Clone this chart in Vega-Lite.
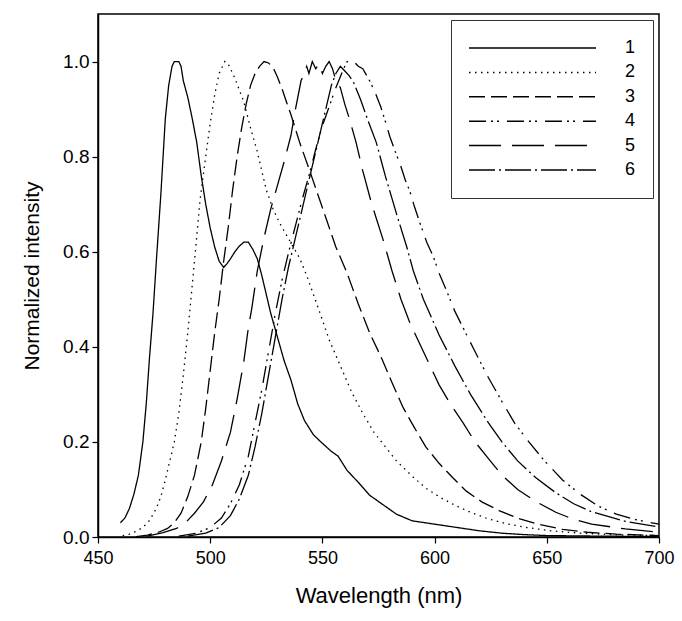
{
  "$schema": "https://vega.github.io/schema/vega-lite/v6.json",
  "width": 561,
  "height": 523,
  "autosize": "none",
  "padding": {"left": 98, "top": 14, "right": 23, "bottom": 84},
  "config": {
    "font": "Liberation Sans",
    "view": {"stroke": "black", "strokeWidth": 1.5},
    "axis": {"domainColor": "black", "domainWidth": 1.5, "tickColor": "black", "tickWidth": 1.2, "tickSize": 6, "labelColor": "black", "labelFont": "Liberation Sans", "titleFont": "Liberation Sans", "titleFontWeight": "normal", "titleColor": "black", "grid": false}
  },
  "datasets": {
    "curves": [
      {"s":"1","w":460,"v":0.03},{"s":"1","w":462,"v":0.04},{"s":"1","w":464,"v":0.06},{"s":"1","w":466,"v":0.09},{"s":"1","w":468,"v":0.13},{"s":"1","w":470,"v":0.2},{"s":"1","w":471.5,"v":0.28},{"s":"1","w":473,"v":0.38},{"s":"1","w":474.5,"v":0.47},{"s":"1","w":476,"v":0.58},{"s":"1","w":478,"v":0.72},{"s":"1","w":480,"v":0.88},{"s":"1","w":481.5,"v":0.95},{"s":"1","w":483,"v":0.99},{"s":"1","w":484,"v":1.0},{"s":"1","w":486,"v":1.0},{"s":"1","w":487,"v":0.99},{"s":"1","w":488,"v":0.96},{"s":"1","w":490,"v":0.925},{"s":"1","w":492,"v":0.88},{"s":"1","w":494,"v":0.83},{"s":"1","w":496,"v":0.76},{"s":"1","w":498,"v":0.7},{"s":"1","w":500,"v":0.65},{"s":"1","w":502,"v":0.61},{"s":"1","w":504,"v":0.58},{"s":"1","w":506,"v":0.567},{"s":"1","w":507.5,"v":0.575},{"s":"1","w":509,"v":0.585},{"s":"1","w":511,"v":0.6},{"s":"1","w":513,"v":0.612},{"s":"1","w":515,"v":0.62},{"s":"1","w":517,"v":0.62},{"s":"1","w":519,"v":0.605},{"s":"1","w":521,"v":0.585},{"s":"1","w":523,"v":0.55},{"s":"1","w":525,"v":0.51},{"s":"1","w":527,"v":0.47},{"s":"1","w":530,"v":0.42},{"s":"1","w":533,"v":0.37},{"s":"1","w":536,"v":0.33},{"s":"1","w":539,"v":0.28},{"s":"1","w":542,"v":0.245},{"s":"1","w":546,"v":0.215},{"s":"1","w":550,"v":0.197},{"s":"1","w":554,"v":0.18},{"s":"1","w":557,"v":0.17},{"s":"1","w":561,"v":0.14},{"s":"1","w":566,"v":0.115},{"s":"1","w":571,"v":0.088},{"s":"1","w":577,"v":0.068},{"s":"1","w":583,"v":0.048},{"s":"1","w":590,"v":0.034},{"s":"1","w":600,"v":0.027},{"s":"1","w":610,"v":0.02},{"s":"1","w":620,"v":0.013},{"s":"1","w":630,"v":0.008},{"s":"1","w":640,"v":0.005},{"s":"1","w":650,"v":0.003},{"s":"1","w":670,"v":0.002},{"s":"1","w":700,"v":0.001},
      {"s":"2","w":461,"v":0.003},{"s":"2","w":464,"v":0.006},{"s":"2","w":467,"v":0.012},{"s":"2","w":470,"v":0.02},{"s":"2","w":473,"v":0.035},{"s":"2","w":476,"v":0.06},{"s":"2","w":478,"v":0.085},{"s":"2","w":480,"v":0.12},{"s":"2","w":482,"v":0.16},{"s":"2","w":484,"v":0.2},{"s":"2","w":486,"v":0.26},{"s":"2","w":488,"v":0.34},{"s":"2","w":490,"v":0.43},{"s":"2","w":491,"v":0.48},{"s":"2","w":493,"v":0.58},{"s":"2","w":495.5,"v":0.71},{"s":"2","w":498,"v":0.8},{"s":"2","w":500,"v":0.87},{"s":"2","w":502,"v":0.93},{"s":"2","w":504,"v":0.975},{"s":"2","w":506.5,"v":1.0},{"s":"2","w":508,"v":0.995},{"s":"2","w":511,"v":0.965},{"s":"2","w":515,"v":0.915},{"s":"2","w":518,"v":0.86},{"s":"2","w":521,"v":0.81},{"s":"2","w":525,"v":0.73},{"s":"2","w":528,"v":0.69},{"s":"2","w":531,"v":0.66},{"s":"2","w":534,"v":0.635},{"s":"2","w":537,"v":0.61},{"s":"2","w":540,"v":0.585},{"s":"2","w":543,"v":0.55},{"s":"2","w":546,"v":0.51},{"s":"2","w":549,"v":0.47},{"s":"2","w":553,"v":0.415},{"s":"2","w":558,"v":0.36},{"s":"2","w":563,"v":0.305},{"s":"2","w":568,"v":0.26},{"s":"2","w":573,"v":0.22},{"s":"2","w":578,"v":0.19},{"s":"2","w":583,"v":0.16},{"s":"2","w":590,"v":0.128},{"s":"2","w":596,"v":0.103},{"s":"2","w":603,"v":0.082},{"s":"2","w":609,"v":0.067},{"s":"2","w":616,"v":0.052},{"s":"2","w":624,"v":0.038},{"s":"2","w":632,"v":0.028},{"s":"2","w":641,"v":0.02},{"s":"2","w":652,"v":0.013},{"s":"2","w":665,"v":0.008},{"s":"2","w":680,"v":0.005},{"s":"2","w":700,"v":0.003},
      {"s":"3","w":467,"v":0.001},{"s":"3","w":472,"v":0.004},{"s":"3","w":477,"v":0.01},{"s":"3","w":481,"v":0.018},{"s":"3","w":484,"v":0.03},{"s":"3","w":487,"v":0.05},{"s":"3","w":490,"v":0.085},{"s":"3","w":493,"v":0.13},{"s":"3","w":496,"v":0.2},{"s":"3","w":498,"v":0.27},{"s":"3","w":500,"v":0.35},{"s":"3","w":502,"v":0.43},{"s":"3","w":504,"v":0.5},{"s":"3","w":506,"v":0.58},{"s":"3","w":508,"v":0.65},{"s":"3","w":510,"v":0.73},{"s":"3","w":512,"v":0.8},{"s":"3","w":514,"v":0.86},{"s":"3","w":516,"v":0.91},{"s":"3","w":518,"v":0.95},{"s":"3","w":520,"v":0.975},{"s":"3","w":522,"v":0.99},{"s":"3","w":524,"v":1.0},{"s":"3","w":526,"v":0.997},{"s":"3","w":528,"v":0.988},{"s":"3","w":530,"v":0.967},{"s":"3","w":532,"v":0.943},{"s":"3","w":534,"v":0.915},{"s":"3","w":536,"v":0.888},{"s":"3","w":538,"v":0.858},{"s":"3","w":540,"v":0.828},{"s":"3","w":544,"v":0.775},{"s":"3","w":548,"v":0.72},{"s":"3","w":552,"v":0.665},{"s":"3","w":556,"v":0.61},{"s":"3","w":561,"v":0.555},{"s":"3","w":566,"v":0.49},{"s":"3","w":571,"v":0.43},{"s":"3","w":576,"v":0.38},{"s":"3","w":581,"v":0.325},{"s":"3","w":586,"v":0.272},{"s":"3","w":591,"v":0.23},{"s":"3","w":596,"v":0.19},{"s":"3","w":602,"v":0.155},{"s":"3","w":608,"v":0.125},{"s":"3","w":614,"v":0.097},{"s":"3","w":621,"v":0.074},{"s":"3","w":629,"v":0.055},{"s":"3","w":638,"v":0.038},{"s":"3","w":647,"v":0.026},{"s":"3","w":657,"v":0.016},{"s":"3","w":668,"v":0.01},{"s":"3","w":681,"v":0.006},{"s":"3","w":700,"v":0.003},
      {"s":"4","w":486,"v":0.002},{"s":"4","w":494,"v":0.008},{"s":"4","w":500,"v":0.02},{"s":"4","w":505,"v":0.04},{"s":"4","w":509,"v":0.07},{"s":"4","w":513,"v":0.11},{"s":"4","w":517,"v":0.17},{"s":"4","w":520,"v":0.24},{"s":"4","w":523,"v":0.31},{"s":"4","w":526,"v":0.39},{"s":"4","w":529,"v":0.47},{"s":"4","w":532,"v":0.54},{"s":"4","w":535,"v":0.6},{"s":"4","w":538,"v":0.655},{"s":"4","w":541,"v":0.71},{"s":"4","w":544,"v":0.76},{"s":"4","w":547,"v":0.815},{"s":"4","w":550,"v":0.865},{"s":"4","w":553,"v":0.905},{"s":"4","w":556,"v":0.945},{"s":"4","w":559,"v":0.98},{"s":"4","w":561,"v":1.0},{"s":"4","w":564,"v":1.0},{"s":"4","w":566,"v":0.99},{"s":"4","w":568,"v":0.985},{"s":"4","w":571,"v":0.96},{"s":"4","w":573.5,"v":0.935},{"s":"4","w":576,"v":0.905},{"s":"4","w":578,"v":0.875},{"s":"4","w":580,"v":0.843},{"s":"4","w":582.5,"v":0.81},{"s":"4","w":584.6,"v":0.785},{"s":"4","w":587,"v":0.75},{"s":"4","w":589,"v":0.727},{"s":"4","w":591,"v":0.695},{"s":"4","w":593.5,"v":0.66},{"s":"4","w":596.5,"v":0.62},{"s":"4","w":599.4,"v":0.59},{"s":"4","w":602,"v":0.555},{"s":"4","w":605.4,"v":0.517},{"s":"4","w":609,"v":0.475},{"s":"4","w":612.7,"v":0.44},{"s":"4","w":618,"v":0.39},{"s":"4","w":624,"v":0.335},{"s":"4","w":630,"v":0.285},{"s":"4","w":635.6,"v":0.24},{"s":"4","w":642,"v":0.2},{"s":"4","w":649,"v":0.16},{"s":"4","w":657,"v":0.12},{"s":"4","w":665.5,"v":0.088},{"s":"4","w":673,"v":0.065},{"s":"4","w":681,"v":0.048},{"s":"4","w":690,"v":0.036},{"s":"4","w":700,"v":0.027},
      {"s":"5","w":472,"v":0.002},{"s":"5","w":479,"v":0.009},{"s":"5","w":485,"v":0.018},{"s":"5","w":489,"v":0.03},{"s":"5","w":493,"v":0.05},{"s":"5","w":497,"v":0.074},{"s":"5","w":501,"v":0.11},{"s":"5","w":505,"v":0.16},{"s":"5","w":509,"v":0.22},{"s":"5","w":512,"v":0.29},{"s":"5","w":515,"v":0.37},{"s":"5","w":517,"v":0.44},{"s":"5","w":518.5,"v":0.48},{"s":"5","w":521,"v":0.56},{"s":"5","w":524,"v":0.63},{"s":"5","w":527,"v":0.69},{"s":"5","w":530,"v":0.74},{"s":"5","w":533,"v":0.79},{"s":"5","w":536,"v":0.845},{"s":"5","w":538,"v":0.9},{"s":"5","w":540.5,"v":0.96},{"s":"5","w":542,"v":0.975},{"s":"5","w":543,"v":0.99},{"s":"5","w":544,"v":0.975},{"s":"5","w":545.5,"v":1.0},{"s":"5","w":547,"v":0.985},{"s":"5","w":548.5,"v":0.995},{"s":"5","w":550,"v":0.975},{"s":"5","w":551.5,"v":0.99},{"s":"5","w":553,"v":1.0},{"s":"5","w":554.5,"v":0.985},{"s":"5","w":556,"v":0.96},{"s":"5","w":558,"v":0.945},{"s":"5","w":560,"v":0.91},{"s":"5","w":562,"v":0.88},{"s":"5","w":565,"v":0.83},{"s":"5","w":568,"v":0.77},{"s":"5","w":572,"v":0.7},{"s":"5","w":577,"v":0.626},{"s":"5","w":581,"v":0.56},{"s":"5","w":585,"v":0.5},{"s":"5","w":589,"v":0.45},{"s":"5","w":593,"v":0.41},{"s":"5","w":598,"v":0.36},{"s":"5","w":602,"v":0.32},{"s":"5","w":607,"v":0.28},{"s":"5","w":612.7,"v":0.24},{"s":"5","w":618,"v":0.2},{"s":"5","w":624,"v":0.165},{"s":"5","w":630,"v":0.13},{"s":"5","w":637,"v":0.1},{"s":"5","w":645,"v":0.075},{"s":"5","w":654,"v":0.052},{"s":"5","w":662,"v":0.037},{"s":"5","w":670,"v":0.027},{"s":"5","w":685,"v":0.017},{"s":"5","w":700,"v":0.01},
      {"s":"6","w":490,"v":0.002},{"s":"6","w":498,"v":0.008},{"s":"6","w":504,"v":0.02},{"s":"6","w":509,"v":0.045},{"s":"6","w":513,"v":0.08},{"s":"6","w":517,"v":0.13},{"s":"6","w":520,"v":0.19},{"s":"6","w":523,"v":0.26},{"s":"6","w":526,"v":0.34},{"s":"6","w":529,"v":0.42},{"s":"6","w":532,"v":0.5},{"s":"6","w":535,"v":0.57},{"s":"6","w":538,"v":0.63},{"s":"6","w":541,"v":0.69},{"s":"6","w":544,"v":0.75},{"s":"6","w":547,"v":0.81},{"s":"6","w":550,"v":0.87},{"s":"6","w":552,"v":0.91},{"s":"6","w":554,"v":0.95},{"s":"6","w":556,"v":0.975},{"s":"6","w":558,"v":0.99},{"s":"6","w":560,"v":0.98},{"s":"6","w":562,"v":0.97},{"s":"6","w":564,"v":0.955},{"s":"6","w":567,"v":0.92},{"s":"6","w":570,"v":0.88},{"s":"6","w":574,"v":0.83},{"s":"6","w":578,"v":0.76},{"s":"6","w":583,"v":0.68},{"s":"6","w":587.6,"v":0.61},{"s":"6","w":590.5,"v":0.56},{"s":"6","w":595,"v":0.5},{"s":"6","w":602,"v":0.425},{"s":"6","w":609,"v":0.36},{"s":"6","w":616,"v":0.3},{"s":"6","w":624,"v":0.24},{"s":"6","w":630,"v":0.2},{"s":"6","w":637,"v":0.16},{"s":"6","w":645,"v":0.125},{"s":"6","w":654,"v":0.093},{"s":"6","w":662,"v":0.07},{"s":"6","w":670,"v":0.053},{"s":"6","w":685,"v":0.033},{"s":"6","w":700,"v":0.021}
    ]
  },
  "data": {"name": "curves"},
  "mark": {"type": "line", "color": "black", "strokeWidth": 1.3, "strokeCap": "butt"},
  "encoding": {
    "x": {"field": "w", "type": "quantitative", "scale": {"domain": [450, 700], "nice": false, "zero": false}, "axis": {"values": [450, 500, 550, 600, 650, 700], "title": "Wavelength (nm)", "titleFontSize": 22, "labelFontSize": 18, "labelPadding": 6, "titlePadding": 18, "labelFlush": false}},
    "y": {"field": "v", "type": "quantitative", "scale": {"domain": [0, 1.1], "nice": false}, "axis": {"values": [0, 0.2, 0.4, 0.6, 0.8, 1.0], "format": ".1f", "title": "Normalized intensity", "titleFontSize": 21, "labelFontSize": 19, "labelPadding": 3, "titlePadding": 20}},
    "strokeDash": {
      "field": "s", "type": "nominal",
      "scale": {"domain": ["1", "2", "3", "4", "5", "6"], "range": [[1, 0], [1.5, 4.5], [16, 6], [17, 5, 2, 4, 2, 8], [32, 11], [26, 4, 2, 4]]},
      "legend": {"title": null, "orient": "none", "legendX": 353, "legendY": 6, "symbolType": "stroke", "symbolSize": 16129, "symbolStrokeWidth": 1.5, "symbolStrokeColor": "black", "labelFontSize": 18, "labelColor": "black", "labelFont": "Liberation Sans", "labelOffset": 28, "padding": 17, "rowPadding": 2.4, "clipHeight": 22, "strokeColor": "#333333", "fillColor": "white"}
    }
  }
}
